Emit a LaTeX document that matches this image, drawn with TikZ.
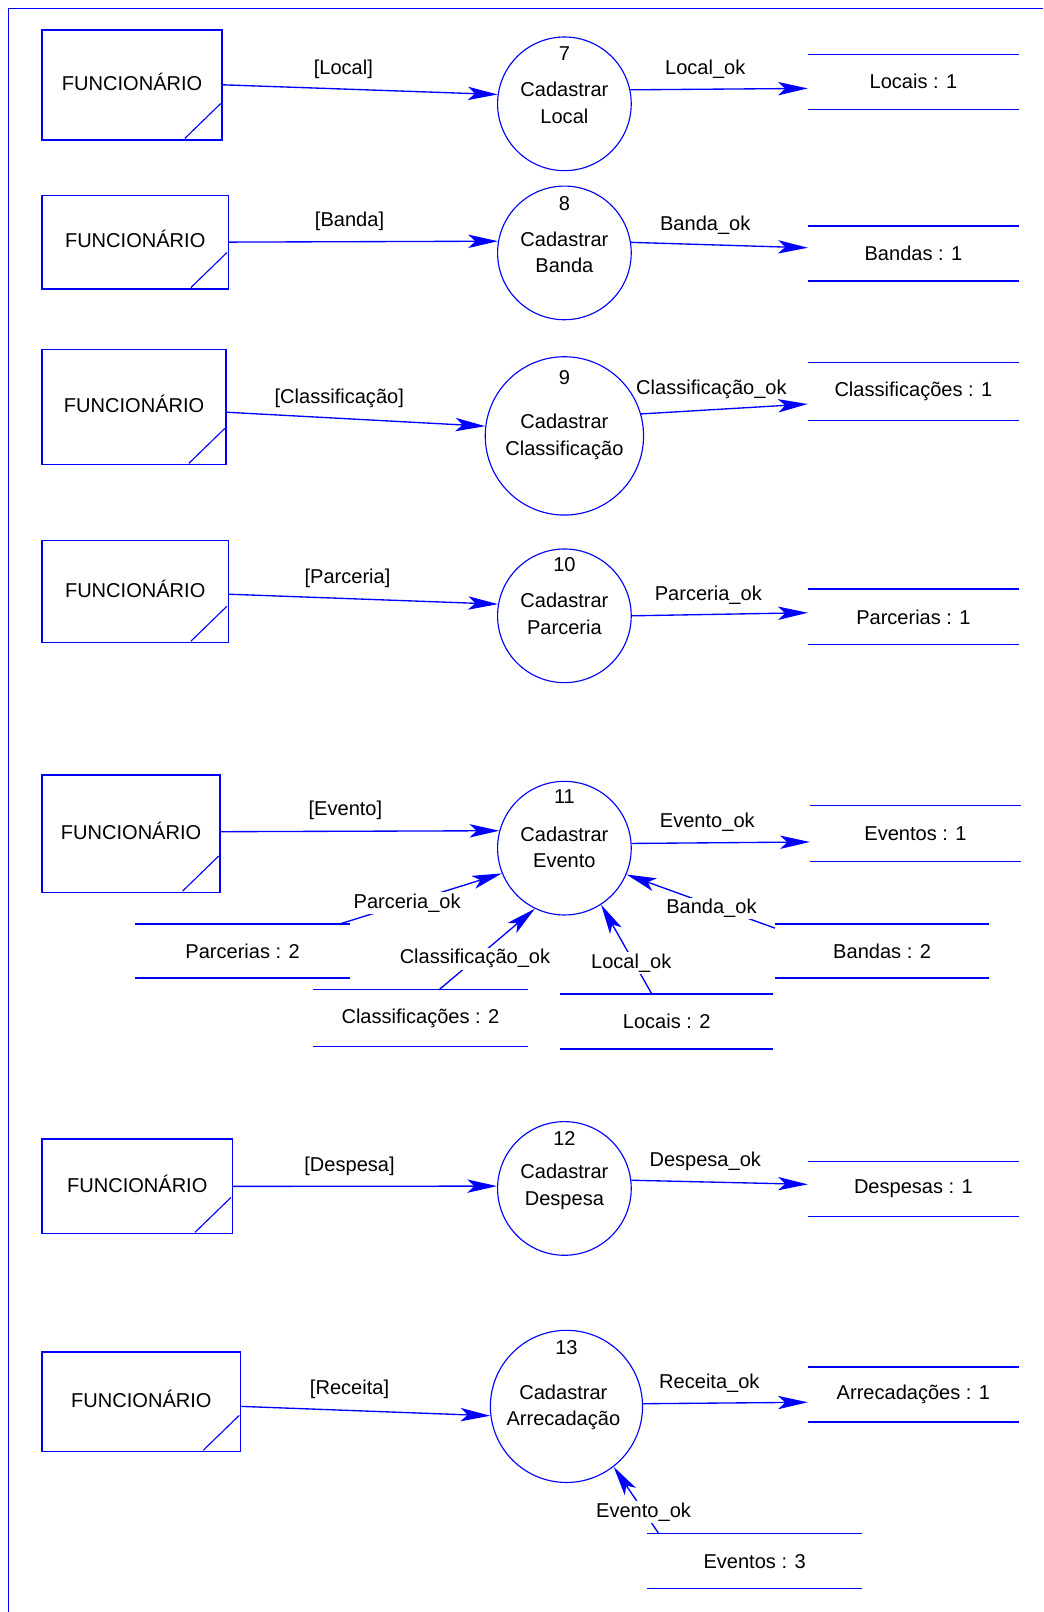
\documentclass[tikz,border=0pt]{standalone}
\usepackage{fontspec}
\setmainfont{Liberation Sans}
\usetikzlibrary{arrows.meta,calc}
\definecolor{dfdblue}{RGB}{0,0,255}
\begin{document}
\begin{tikzpicture}[x=1bp,y=-1bp,
  every node/.style={font=\fontsize{19.5bp}{25.5bp}\selectfont, inner sep=0pt, text=black},
  frame/.style={draw=dfdblue, line width=1.1bp},
  extent/.style={draw=dfdblue, line width=1.4bp, rectangle, text depth=6bp},
  corner/.style={draw=dfdblue, line width=1.1bp},
  proc/.style={draw=dfdblue, line width=1.1bp, circle},
  storeline/.style={draw=dfdblue, line width=1.3bp},
  store/.style={minimum width=205bp},
  flow/.style={draw=dfdblue, line width=1.3bp, -{Stealth[length=29bp,width=13bp,inset=7bp]}},
  lbl/.style={yshift=-2.5bp},
  onlbl/.style={lbl, fill=white, inner sep=1.5bp},
  ptext/.style={align=center, yshift=-1bp},
]
\useasboundingbox (0,0) rectangle (1015,1568);

% page frame (top and left edges)
\coordinate (fbl) at (8,1568);
\coordinate (ftl) at (8,8);
\coordinate (ftr) at (1015,8);
\draw[frame] (fbl) -- (ftl) -- (ftr);

% external entities
\node[extent, minimum width=175bp, minimum height=107bp] (f7)  at (128.5,82.5)  {FUNCIONÁRIO};
\node[extent, minimum width=181bp, minimum height=91bp]  (f8)  at (131.5,235.5) {FUNCIONÁRIO};
\node[extent, minimum width=179bp, minimum height=112bp] (f9)  at (130.5,396)   {FUNCIONÁRIO};
\node[extent, minimum width=181bp, minimum height=99bp]  (f10) at (131.5,575.5) {FUNCIONÁRIO};
\node[extent, minimum width=173bp, minimum height=114bp] (f11) at (127.5,811)   {FUNCIONÁRIO};
\node[extent, minimum width=185bp, minimum height=92bp]  (f12) at (133.5,1154)  {FUNCIONÁRIO};
\node[extent, minimum width=193bp, minimum height=97bp]  (f13) at (137.5,1363.5){FUNCIONÁRIO};
\foreach \b in {f7,f8,f9,f10,f11,f12,f13}
  \draw[corner] ($(\b.south east)+(-37,-2)$) -- ($(\b.south east)+(-2,-36)$);

% processes
\node[proc, minimum size=130bp] (p7)  at (549,101)  {};
\node[proc, minimum size=130bp] (p8)  at (549,246)  {};
\node[proc, minimum size=154bp] (p9)  at (549,424)  {};
\node[proc, minimum size=130bp] (p10) at (549,599)  {};
\node[proc, minimum size=130bp] (p11) at (549,825)  {};
\node[proc, minimum size=130bp] (p12) at (549,1156) {};
\node[proc, minimum size=148bp] (p13) at (551,1368) {};

\node[ptext] (p7n)  at ([yshift=50bp]p7.center)  {7};
\node[ptext] (p8n)  at ([yshift=49bp]p8.center)  {8};
\node[ptext] (p9n)  at ([yshift=58bp]p9.center)  {9};
\node[ptext] (p10n) at ([yshift=51bp]p10.center) {10};
\node[ptext] (p11n) at ([yshift=51bp]p11.center) {11};
\node[ptext] (p12n) at ([yshift=50bp]p12.center) {12};
\node[ptext] (p13n) at ([yshift=58bp]p13.center) {13};

\node[ptext] (p7t)  at ([yshift=2bp]p7.center)    {Cadastrar\\Local};
\node[ptext] (p8t)  at ([yshift=1.5bp]p8.center)  {Cadastrar\\Banda};
\node[ptext] (p9t)  at (p9.center)                {Cadastrar\\Classificação};
\node[ptext] (p10t) at ([yshift=3bp]p10.center)   {Cadastrar\\Parceria};
\node[ptext] (p11t) at ([yshift=1.5bp]p11.center) {Cadastrar\\Evento};
\node[ptext] (p12t) at ([yshift=2.5bp]p12.center) {Cadastrar\\Despesa};
\node[ptext] (p13t) at ([xshift=-3bp]p13.center)  {Cadastrar\\Arrecadação};

% data stores
\node[store, minimum height=53bp] (s7)  at (888.5,79.5)  {Locais : 1};
\node[store, minimum height=53bp] (s8)  at (888.5,246.5) {Bandas : 1};
\node[store, minimum height=56bp] (s9)  at (888.5,381)   {Classificações : 1};
\node[store, minimum height=54bp] (s10) at (888.5,600)   {Parcerias : 1};
\node[store, minimum height=54bp] (s11) at (890.5,811)   {Eventos : 1};
\node[store, minimum width=208bp, minimum height=52bp] (s11a) at (236,925)    {Parcerias : 2};
\node[store, minimum width=208bp, minimum height=55bp] (s11b) at (409,990.5)  {Classificações : 2};
\node[store, minimum width=207bp, minimum height=53bp] (s11c) at (648.5,993.5){Locais : 2};
\node[store, minimum width=208bp, minimum height=52bp] (s11d) at (858,925)    {Bandas : 2};
\node[store, minimum height=53bp] (s12) at (888.5,1156.5) {Despesas : 1};
\node[store, minimum height=53bp] (s13) at (888.5,1356.5) {Arrecadações : 1};
\node[store, minimum width=208bp, minimum height=53bp] (s13a) at (734,1518.5) {Eventos : 3};
\foreach \s in {s7,s8,s9,s10,s11,s11a,s11b,s11c,s11d,s12,s13,s13a}
  \draw[storeline] (\s.north west) -- (\s.north east) (\s.south west) -- (\s.south east);

% data flows
\draw[flow] (f7.east) -- (p7.172);
\draw[flow] (p7.12) -- ([yshift=-6.5bp]s7.west);
\draw[flow] (f8.east) -- (p8.170);
\draw[flow] (p8.9) -- ([yshift=5.5bp]s8.west);
\draw[flow] ([yshift=-5bp]f9.east) -- (p9.173);
\draw[flow] (p9.16) -- ([yshift=-12bp]s9.west);
\draw[flow] ([yshift=-2.5bp]f10.east) -- (p10.170);
\draw[flow] (p10.0) -- ([yshift=4bp]s10.west);
\draw[flow] ([yshift=2bp]f11.east) -- (p11.165);
\draw[flow] (p11.4) -- ([yshift=-8bp]s11.west);
\draw[flow] ([xshift=-10bp]s11a.north east) -- (p11.202);
\draw[flow] ([xshift=18bp]s11b.north) -- (p11.244);
\draw[flow] ([xshift=-14.5bp]s11c.north) -- (p11.303);
\draw[flow] ([yshift=-4bp]s11d.north west) -- (p11.337);
\draw[flow] (f12.east) -- (p12.178);
\draw[flow] (p12.7) -- ([yshift=4.5bp]s12.west);
\draw[flow] ([yshift=-4.5bp]f13.east) -- (p13.187);
\draw[flow] (p13.2) -- ([yshift=-7.5bp]s13.west);
\draw[flow] ([xshift=11bp]s13a.north west) -- (p13.308);

% flow labels
\node[lbl] (l7a)  at (334,65)   {[Local]};
\node[lbl] (l7b)  at (686,65)   {Local\_ok};
\node[lbl] (l8a)  at (340,213)  {[Banda]};
\node[lbl] (l8b)  at (686,217)  {Banda\_ok};
\node[lbl] (l9a)  at (330,385)  {[Classificação]};
\node[lbl] (l9b)  at (692,376)  {Classificação\_ok};
\node[lbl] (l10a) at (338,560)  {[Parceria]};
\node[lbl] (l10b) at (689,576)  {Parceria\_ok};
\node[lbl] (l11a) at (336,786)  {[Evento]};
\node[lbl] (l11b) at (688,797)  {Evento\_ok};
\node[onlbl] (l11c) at (396,876)  {Parceria\_ok};
\node[onlbl] (l11d) at (462,930)  {Classificação\_ok};
\node[onlbl] (l11e) at (614,934)  {Local\_ok};
\node[onlbl] (l11f) at (692,881)  {Banda\_ok};
\node[lbl] (l12a) at (340,1132) {[Despesa]};
\node[lbl] (l12b) at (686,1127) {Despesa\_ok};
\node[lbl] (l13a) at (340,1349) {[Receita]};
\node[lbl] (l13b) at (690,1343) {Receita\_ok};
\node[onlbl] (l13c) at (626,1468) {Evento\_ok};
\end{tikzpicture}
\end{document}
